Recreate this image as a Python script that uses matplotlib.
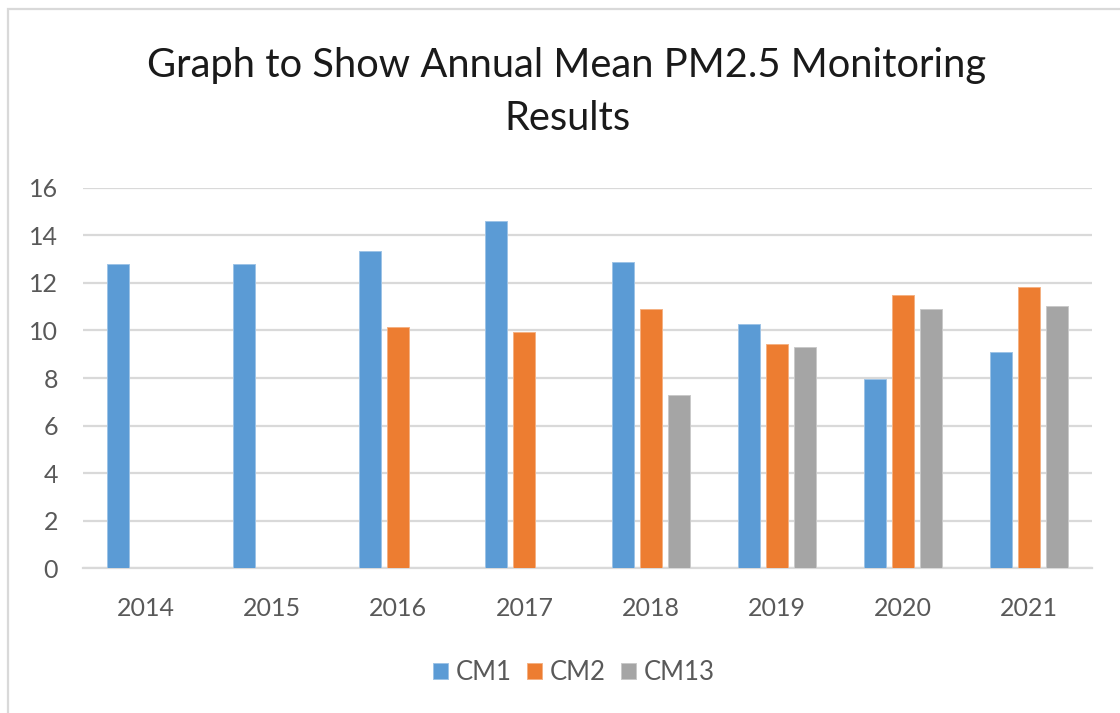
import numpy as np
import matplotlib
matplotlib.use("Agg")
import matplotlib.pyplot as plt
from matplotlib.patches import Rectangle

years = ["2014", "2015", "2016", "2017", "2018", "2019", "2020", "2021"]
cm1 = [12.80, 12.80, 13.34, 14.59, 12.87, 10.29, 7.96, 9.08]
cm2 = [np.nan, np.nan, 10.15, 9.95, 10.88, 9.43, 11.48, 11.81]
cm13 = [np.nan, np.nan, np.nan, np.nan, 7.29, 9.29, 10.88, 11.02]
series_names = ["CM1", "CM2", "CM13"]
colors = ["#5B9BD5", "#ED7D31", "#A5A5A5"]
edge_colors = ["#9DC3E6", "#F4B183", "#C9C9C9"]
yticks = [0, 2, 4, 6, 8, 10, 12, 14, 16]
title_lines = ["Graph to Show Annual Mean PM2.5 Monitoring", "Results"]

plt.rcParams['font.family'] = ['Lato', 'DejaVu Sans']

W, H = 1120, 713
fig = plt.figure(figsize=(W / 100, H / 100), dpi=100)
fig.patch.set_facecolor("white")

# outer chart frame (cut off at right/bottom)
fig.patches.append(Rectangle((8 / W, -0.05), 1.2, 1 - 9 / H + 0.05,
                             transform=fig.transFigure, fill=False,
                             edgecolor="#D9D9D9", linewidth=1.6))

ax = fig.add_axes([83 / W, 1 - 568.3 / H, (1092 - 83) / W, (568.3 - 187.7) / H])
x = np.arange(len(years))
width = 0.175
step = 0.222
for i, (vals, name) in enumerate(zip([cm1, cm2, cm13], series_names)):
    ax.bar(x + (i - 1) * step, vals, width=width, color=colors[i],
           edgecolor=edge_colors[i], linewidth=0.7, label=name, zorder=3)

ax.set_xlim(-0.5, len(years) - 0.5)
ax.set_ylim(0, 16)
ax.set_yticks(yticks)
ax.set_xticks(x)
ax.set_xticklabels(years)
ax.yaxis.grid(True, color="#D9D9D9", linewidth=1.6, zorder=0)
ax.set_axisbelow(True)
for s in ["top", "right", "left"]:
    ax.spines[s].set_visible(False)
ax.spines["bottom"].set_color("#D9D9D9")
ax.spines["bottom"].set_linewidth(1.6)
ax.tick_params(axis="both", length=0, labelsize=18, labelcolor="#595959")
ax.tick_params(axis="y", pad=18)
ax.tick_params(axis="x", pad=21)

fig.text(567 / W, 1 - 77 / H, title_lines[0], ha="center", va="baseline",
         fontsize=28.7, color="#1a1a1a")
fig.text(567 / W, 1 - 130 / H, title_lines[1], ha="center", va="baseline",
         fontsize=28.7, color="#1a1a1a")

leg = fig.legend(loc="center", bbox_to_anchor=(574 / W, 1 - 673 / H), ncol=3,
                 frameon=False, fontsize=18.5, handlelength=0.58, handleheight=0.58,
                 handletextpad=0.31, columnspacing=0.6, labelcolor="#595959")

fig.savefig("out.png", dpi=100)
